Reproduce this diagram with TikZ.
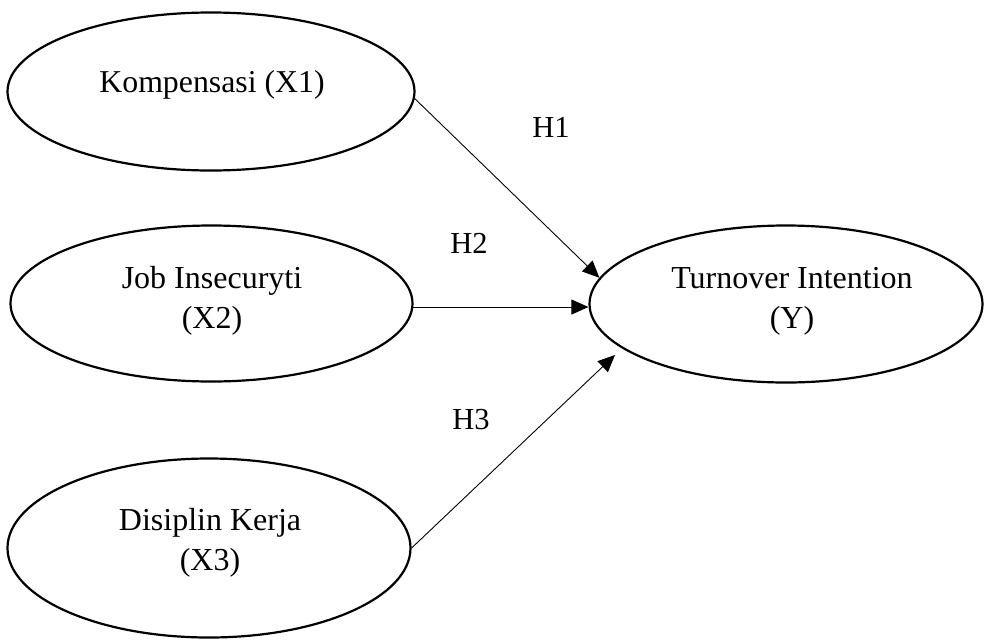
\documentclass[tikz,border=0pt]{standalone}
\usepackage{fontspec}
\setmainfont{Liberation Serif}
\usetikzlibrary{shapes.geometric,arrows.meta}
\begin{document}
\begin{tikzpicture}[x=1pt,y=-1pt,
  varell/.style={draw=black,line width=2.2pt,ellipse,inner sep=0pt},
  lbl/.style={inner sep=0pt,align=center,font=\fontsize{32}{40}\selectfont},
  hyp/.style={inner sep=0pt,font=\fontsize{30.5}{36}\selectfont,anchor=base},
  arr/.style={line width=0.9pt,-{Triangle[length=17pt,width=15pt]}}]
\useasboundingbox (0,0) rectangle (984,640);
% ellipses
\node[varell,minimum width=407pt,minimum height=158pt] (k) at (211,91.5) {};
\node[varell,minimum width=402pt,minimum height=156pt] (j) at (211.5,303.5) {};
\node[varell,minimum width=403pt,minimum height=179pt] (d) at (209,548) {};
\node[varell,minimum width=393pt,minimum height=157pt] (y) at (786,304) {};
% texts
\node[inner sep=0pt,anchor=base,font=\fontsize{31.8}{40}\selectfont] (kt) at (212,92) {Kompensasi (X1)};
\node[lbl] (jt) at (212,300.7) {Job Insecuryti\\(X2)};
\node[lbl] (dt) at (210,542.7) {Disiplin Kerja\\(X3)};
\node[lbl] (yt) at (792,301) {Turnover Intention\\(Y)};
% hypothesis labels
\node[hyp] (h1) at (551,137) {H1};
\node[hyp] (h2) at (469,253) {H2};
\node[hyp] (h3) at (471,429) {H3};
% connectors
\coordinate (h3end) at (615,355);
\draw[arr] (k.-2) -- (y.172);
\draw[arr] (j.-1) -- (j.-1 -| y.west);
\draw[arr] (d.east) -- (h3end);
\end{tikzpicture}
\end{document}
